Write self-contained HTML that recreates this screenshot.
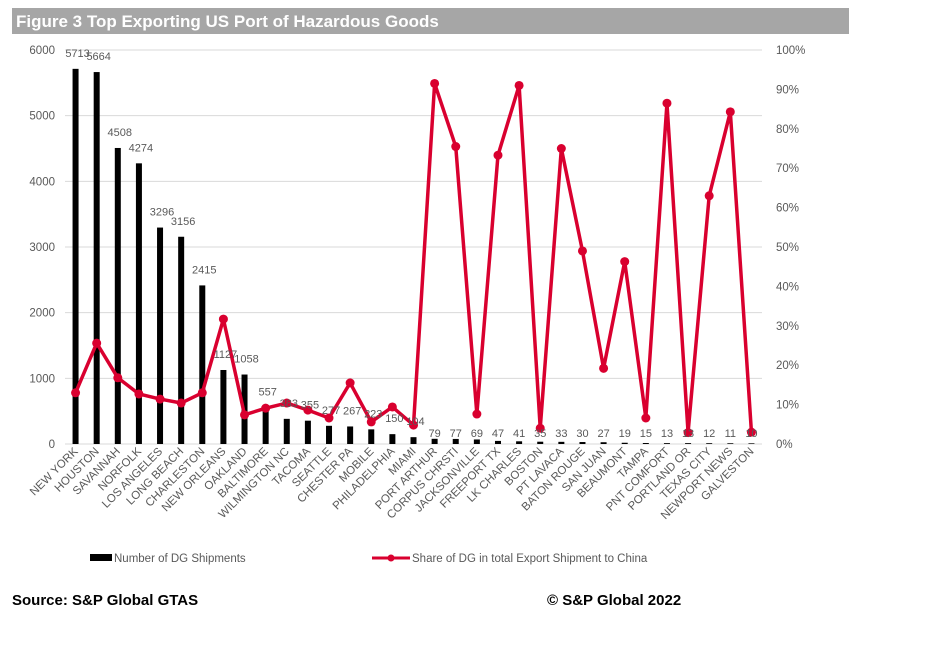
<!DOCTYPE html>
<html><head><meta charset="utf-8"><style>
body{margin:0;background:#fff;width:936px;height:640px;overflow:hidden;font-family:"Liberation Sans",sans-serif}
</style></head><body>
<svg width="936" height="640" viewBox="0 0 936 640" xmlns="http://www.w3.org/2000/svg">
<rect x="12" y="8" width="837" height="26" fill="#a6a6a6"/>
<text x="16" y="27" font-size="17" font-weight="bold" fill="#fff">Figure 3 Top Exporting US Port of Hazardous Goods</text>
<g id="grid"></g><g id="bars"></g><g id="line"></g><g id="labels"></g>
<g>
<rect x="90" y="554" width="22" height="7" fill="#000"/>
<text x="114" y="562" font-size="11.5" fill="#595959">Number of DG Shipments</text>
<line x1="372" y1="558" x2="410" y2="558" stroke="#d9002f" stroke-width="3"/>
<circle cx="391" cy="558" r="3.5" fill="#d9002f"/>
<text x="412" y="562" font-size="11.5" fill="#595959">Share of DG in total Export Shipment to China</text>
</g>
<text x="12" y="605" font-size="15" font-weight="bold" fill="#000">Source: S&amp;P Global GTAS</text>
<text x="547" y="605" font-size="15" font-weight="bold" fill="#000">©  S&amp;P Global 2022</text>
</svg>
<script>
const categories=["NEW YORK","HOUSTON","SAVANNAH","NORFOLK","LOS ANGELES","LONG BEACH","CHARLESTON","NEW ORLEANS","OAKLAND","BALTIMORE","WILMINGTON NC","TACOMA","SEATTLE","CHESTER PA","MOBILE","PHILADELPHIA","MIAMI","PORT ARTHUR","CORPUS CHRSTI","JACKSONVILLE","FREEPORT TX","LK CHARLES","BOSTON","PT LAVACA","BATON ROUGE","SAN JUAN","BEAUMONT","TAMPA","PNT COMFORT","PORTLAND OR","TEXAS CITY","NEWPORT NEWS","GALVESTON"];
const shipments=[5713,5664,4508,4274,3296,3156,2415,1127,1058,557,383,355,277,267,223,150,104,79,77,69,47,41,35,33,30,27,19,15,13,13,12,11,10];
const sharePct=[13,25.6,16.8,12.7,11.4,10.4,13,31.7,7.4,9.1,10.4,8.6,6.6,15.5,5.6,9.4,4.8,91.5,75.5,7.6,73.3,91,4,75,49,19.2,46.3,6.6,86.5,2.9,63,84.3,3];
const leftTicks=[0,1000,2000,3000,4000,5000,6000];
const rightTicks=[0,10,20,30,40,50,60,70,80,90,100];
const NS="http://www.w3.org/2000/svg";
const X0=65,X1=762,Y0=444,Y1=50;
const band=(X1-X0)/categories.length;
const xc=i=>X0+band*(i+0.5);
const yL=v=>Y0-(v/6000)*(Y0-Y1);
const yR=v=>Y0-(v/100)*(Y0-Y1);
function mk(tag,attrs,parent,txt){const e=document.createElementNS(NS,tag);for(const k in attrs)e.setAttribute(k,attrs[k]);if(txt!==undefined)e.textContent=txt;document.getElementById(parent).appendChild(e);return e;}
leftTicks.forEach(t=>{
  const g=mk('line',{x1:X0,x2:X1,y1:yL(t),y2:yL(t),stroke:'#d9d9d9','stroke-width':1},'grid');
  
  
  const l=mk('text',{x:55,y:yL(t)+4,'font-size':11.5,fill:'#595959','text-anchor':'end'},'grid',t);
  
  
});
rightTicks.forEach(t=>{
  const l=mk('text',{x:776,y:yR(t)+4,'font-size':11.5,fill:'#595959'},'grid',t+'%');
  
  
});
shipments.forEach((v,i)=>{
  const b=mk('rect',{x:xc(i)-3,y:yL(v),width:6,height:Y0-yL(v),fill:'#000'},'bars');
  
  
  const t=mk('text',{x:xc(i)+(i<17?2:0),y:(i<17?yL(v)-12:437),'font-size':11,fill:'#595959','text-anchor':'middle'},'labels',v);
  
  
  const c=mk('text',{x:xc(i)+3,y:452,'font-size':11.5,fill:'#595959','text-anchor':'end',transform:`rotate(-45 ${xc(i)+3} 452)`},'labels',categories[i]);
  
  
});
const pts=sharePct.map((v,i)=>xc(i)+','+yR(v)).join(' ');
const pl=mk('polyline',{points:pts,fill:'none',stroke:'#d9002f','stroke-width':3.5,'stroke-linejoin':'round'},'line');


sharePct.forEach((v,i)=>{
  const c=mk('circle',{cx:xc(i),cy:yR(v),r:4.5,fill:'#d9002f'},'line');
  
  
});
</script>
</body></html>
